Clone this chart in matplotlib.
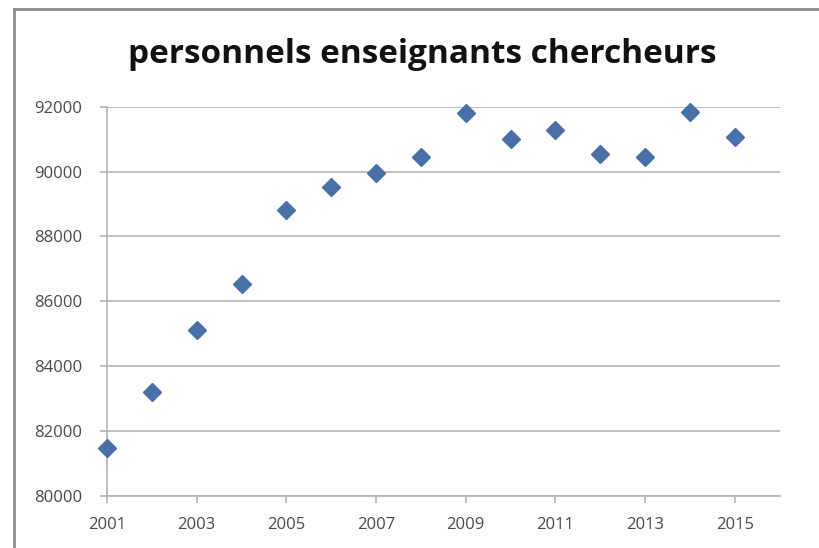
import matplotlib
import numpy as np

matplotlib.use("Agg")
import matplotlib.pyplot as plt
from matplotlib.lines import Line2D

TITLE = "personnels enseignants chercheurs"
years = [2001, 2002, 2003, 2004, 2005, 2006, 2007, 2008,
         2009, 2010, 2011, 2012, 2013, 2014, 2015]
staff = [81470, 83215, 85120, 86525, 88820, 89515, 89950, 90440,
         91800, 91005, 91280, 90540, 90460, 91830, 91060]
x_ticks = [2001, 2003, 2005, 2007, 2009, 2011, 2013, 2015]
y_ticks = [80000, 82000, 84000, 86000, 88000, 90000, 92000]

plt.rcParams["font.family"] = ["Open Sans", "DejaVu Sans"]

fig = plt.figure(figsize=(8.19, 5.48), dpi=100)
ax = fig.add_axes([0.1306, 0.0949, 0.8214, 0.7103])

ax.plot(years, staff, linestyle="none", marker="D", markersize=9.5,
        color="#4a70a8", markeredgecolor="#4a70a8", zorder=3, clip_on=False)

ax.set_xlim(2001, 2016)
ax.set_ylim(80000, 92000)
ax.set_xticks(x_ticks)
ax.set_yticks(y_ticks)
ax.yaxis.grid(True, color="#b4b4b4", linewidth=1.2)
ax.set_axisbelow(True)

for side in ("top", "right"):
    ax.spines[side].set_visible(False)
for side in ("left", "bottom"):
    ax.spines[side].set_color("#b4b4b4")
    ax.spines[side].set_linewidth(1.2)

ax.tick_params(axis="both", colors="#b4b4b4", labelcolor="#4a4a4a",
               labelsize=12, length=5, width=1.2, direction="out")
ax.tick_params(axis="x", pad=10)
ax.tick_params(axis="y", pad=13)

fig.text(0.515, 0.900, TITLE, ha="center", va="center",
         fontsize=24, fontweight="bold", color="#111111")

# gray frame of the pasted chart (left and top edges)
fig.add_artist(Line2D([0.017, 0.017], [0.0, 0.983], transform=fig.transFigure,
                      color="#8c8c8c", linewidth=2))
fig.add_artist(Line2D([0.017, 1.0], [0.983, 0.983], transform=fig.transFigure,
                      color="#8c8c8c", linewidth=2))

fig.savefig("out.png", dpi=100)
